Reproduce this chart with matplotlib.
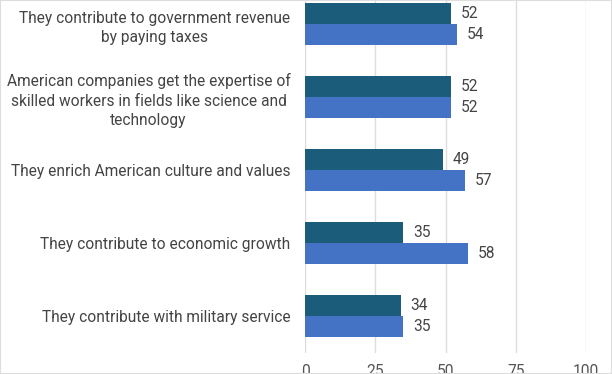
import matplotlib.pyplot as plt
import numpy as np
from matplotlib.patches import Rectangle

plt.rcParams['font.family'] = ['Roboto', 'DejaVu Sans']

categories = [
    "They contribute to government revenue\nby paying taxes",
    "American companies get the expertise of\nskilled workers in fields like science and\ntechnology",
    "They enrich American culture and values",
    "They contribute to economic growth",
    "They contribute with military service",
]
series_dark = [52, 52, 49, 35, 34]
series_blue = [54, 52, 57, 58, 35]
x_ticks = [0, 25, 50, 75, 100]

dark_color = '#1a5c7a'
blue_color = '#4472c4'

fig = plt.figure(figsize=(6.12, 3.74), dpi=100)
ax = fig.add_axes([305 / 612, (374 - 352.5) / 374, 281 / 612, 365 / 374])

y = np.arange(len(categories))
h = 0.285
b1 = ax.barh(y - h / 2, series_dark, height=h, color=dark_color, zorder=3)
b2 = ax.barh(y + h / 2, series_blue, height=h, color=blue_color, zorder=3)

for bars, vals in [(b1, series_dark), (b2, series_blue)]:
    for bar, v in zip(bars, vals):
        ax.annotate(str(v), (bar.get_width(), bar.get_y() + bar.get_height() / 2),
                    xytext=(7, 0), textcoords='offset points', va='center', ha='left',
                    fontsize=11.2, color='#444444')

ax.set_ylim(len(categories) - 0.5, -0.5)
ax.set_xlim(0, 100)
ax.set_xticks(x_ticks)
ax.set_yticks(y)
ax.set_yticklabels(categories, ha='right', multialignment='center', linespacing=1.35)
ax.tick_params(axis='y', length=0, pad=10.5, labelsize=11.2, labelcolor='#444444')
ax.tick_params(axis='x', length=0, pad=8, labelsize=11.2, labelcolor='#555555')
ax.grid(axis='x', color='#dddddd', linewidth=1, zorder=0)
for s in ax.spines.values():
    s.set_visible(False)

fig.patches.append(Rectangle((0, 0), 1, 1, transform=fig.transFigure, fill=False,
                             edgecolor='#dddddd', linewidth=1.5))

fig.savefig('out.png', dpi=100)
